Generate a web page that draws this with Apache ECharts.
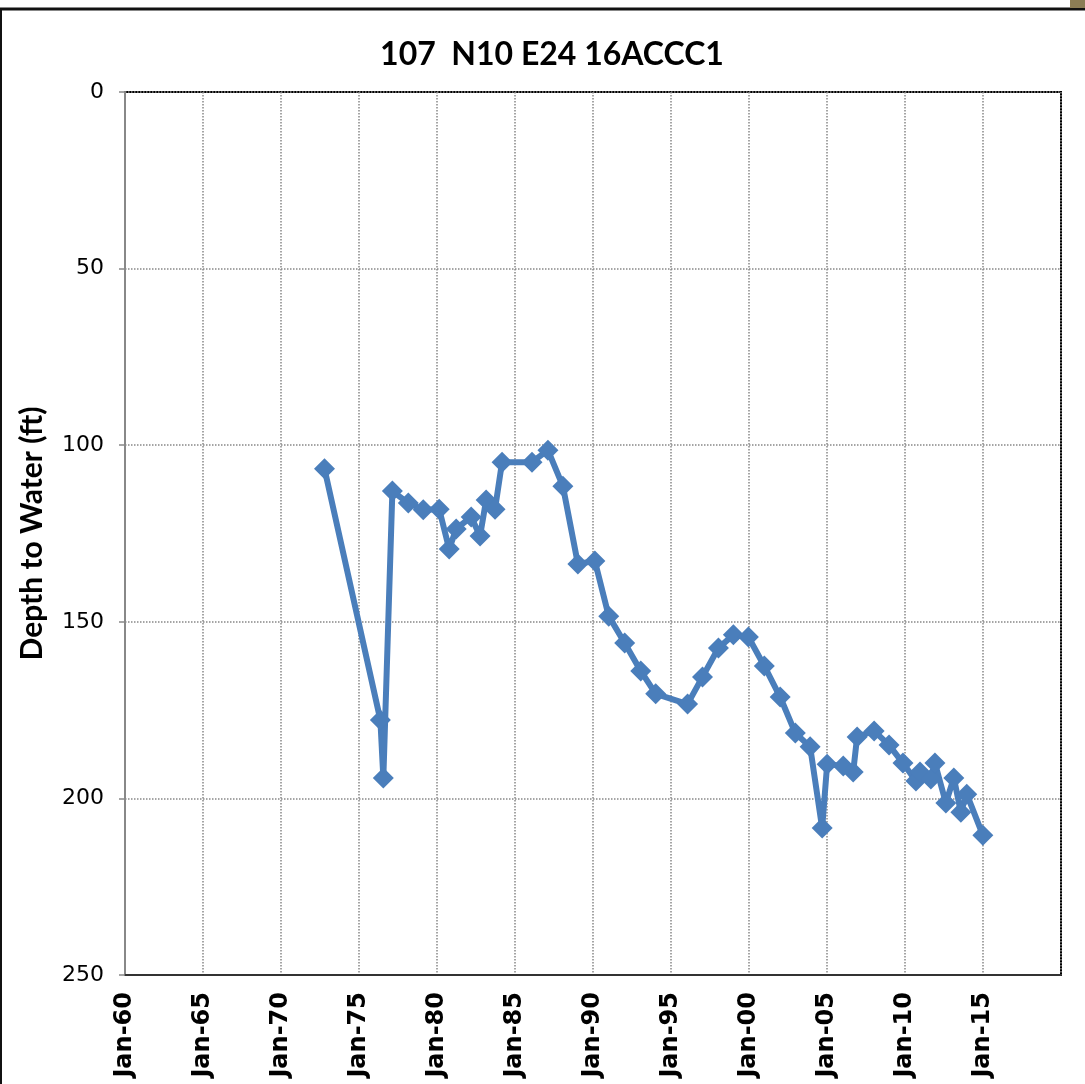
<!DOCTYPE html>
<html><head><meta charset="utf-8">
<script src="https://cdn.jsdelivr.net/npm/echarts@6/dist/echarts.min.js"></script>
<style>html,body{margin:0;padding:0;background:#fff}#c{width:1085px;height:1084px}</style>
</head><body><div id="c"></div>
<script>
var titleText = '107  N10 E24 16ACCC1';
var yAxisName = 'Depth to Water (ft)';
// decimal year of each measurement
var years = [1972.79,1976.37,1976.56,1977.14,1978.16,1979.12,1980.14,1980.78,1981.23,1982.19,
  1982.76,1983.15,1983.72,1984.17,1986.09,1987.11,1988.07,1989.03,1990.12,1991.01,
  1992.03,1993.06,1994.02,1996.06,1997.02,1998.04,1999.00,1999.96,2000.98,2002.00,
  2002.97,2003.92,2004.69,2005.01,2006.04,2006.68,2006.93,2008.02,2008.98,2009.87,
  2010.70,2010.96,2011.66,2011.92,2012.62,2013.13,2013.58,2013.96,2014.99];
// depth to water (ft)
var depths = [106.7,177.8,194.2,113.0,116.4,118.3,118.1,129.4,123.7,120.3,
  125.7,115.5,118.1,104.8,104.8,101.4,111.6,133.6,132.8,148.4,
  156.0,163.9,170.4,173.3,165.6,157.4,153.7,154.3,162.5,171.3,
  181.5,185.4,208.4,190.3,190.8,192.5,182.6,180.9,184.9,190.0,
  195.1,192.5,194.5,190.0,201.3,194.2,203.9,198.8,210.4];
var xMin = 1960, xMax = 2020, xStep = 5;
var yMin = 0, yMax = 250, yStep = 50;

var data = years.map(function(y, i){ return [y, depths[i]]; });
var chart = echarts.init(document.getElementById('c'));
chart.setOption({
  animation: false,
  backgroundColor: '#fff',
  title: {
    text: titleText, left: 547, top: 34, textAlign: 'center',
    textStyle: {fontFamily: 'Lato', fontWeight: 'bold', fontSize: 32, color: '#000'}
  },
  grid: {left: 125, right: 24, top: 92, bottom: 109, show: true, borderColor: '#000', borderWidth: 2, backgroundColor: '#fff'},
  xAxis: {
    type: 'value', min: xMin, max: xMax, interval: xStep,
    axisLine: {show: true, onZero: false, lineStyle: {color: '#333', width: 2}},
    axisTick: {show: false},
    splitLine: {show: true, lineStyle: {color: '#888', type: 'dotted', width: 1.5}},
    axisLabel: {
      rotate: 90, margin: 17, showMaxLabel: false,
      fontFamily: 'DejaVu Sans', fontWeight: 'bold', fontSize: 24, color: '#000',
      formatter: function(v){ var yy = Math.round(v) % 100; return 'Jan-' + (yy < 10 ? '0' : '') + yy; }
    }
  },
  yAxis: {
    type: 'value', inverse: true, min: yMin, max: yMax, interval: yStep,
    name: yAxisName, nameLocation: 'middle', nameGap: 78, nameRotate: 90,
    nameTextStyle: {fontFamily: 'Lato', fontWeight: 'bold', fontSize: 30, color: '#000'},
    axisLine: {show: true, onZero: false, lineStyle: {color: '#888', width: 2}},
    axisTick: {show: true, length: 6, lineStyle: {color: '#888', width: 1.5}},
    splitLine: {show: true, lineStyle: {color: '#888', type: 'dotted', width: 1.5}},
    axisLabel: {fontFamily: 'DejaVu Sans', fontSize: 22, color: '#000', margin: 21}
  },
  series: [{
    type: 'line', data: data,
    symbol: 'diamond', symbolSize: 21,
    lineStyle: {color: '#4a7ebb', width: 6},
    itemStyle: {color: '#4a7ebb'}
  }],
  graphic: [
    {type: 'line', shape: {x1: 0, y1: 9, x2: 1085, y2: 9}, style: {stroke: '#111', lineWidth: 3}, z: 100},
    {type: 'line', shape: {x1: 1, y1: 9, x2: 1, y2: 1084}, style: {stroke: '#111', lineWidth: 2}, z: 100},
    {type: 'rect', shape: {x: 1070, y: 0, width: 15, height: 8}, style: {fill: '#8c7d55'}, z: 100}
  ]
});
</script></body></html>
